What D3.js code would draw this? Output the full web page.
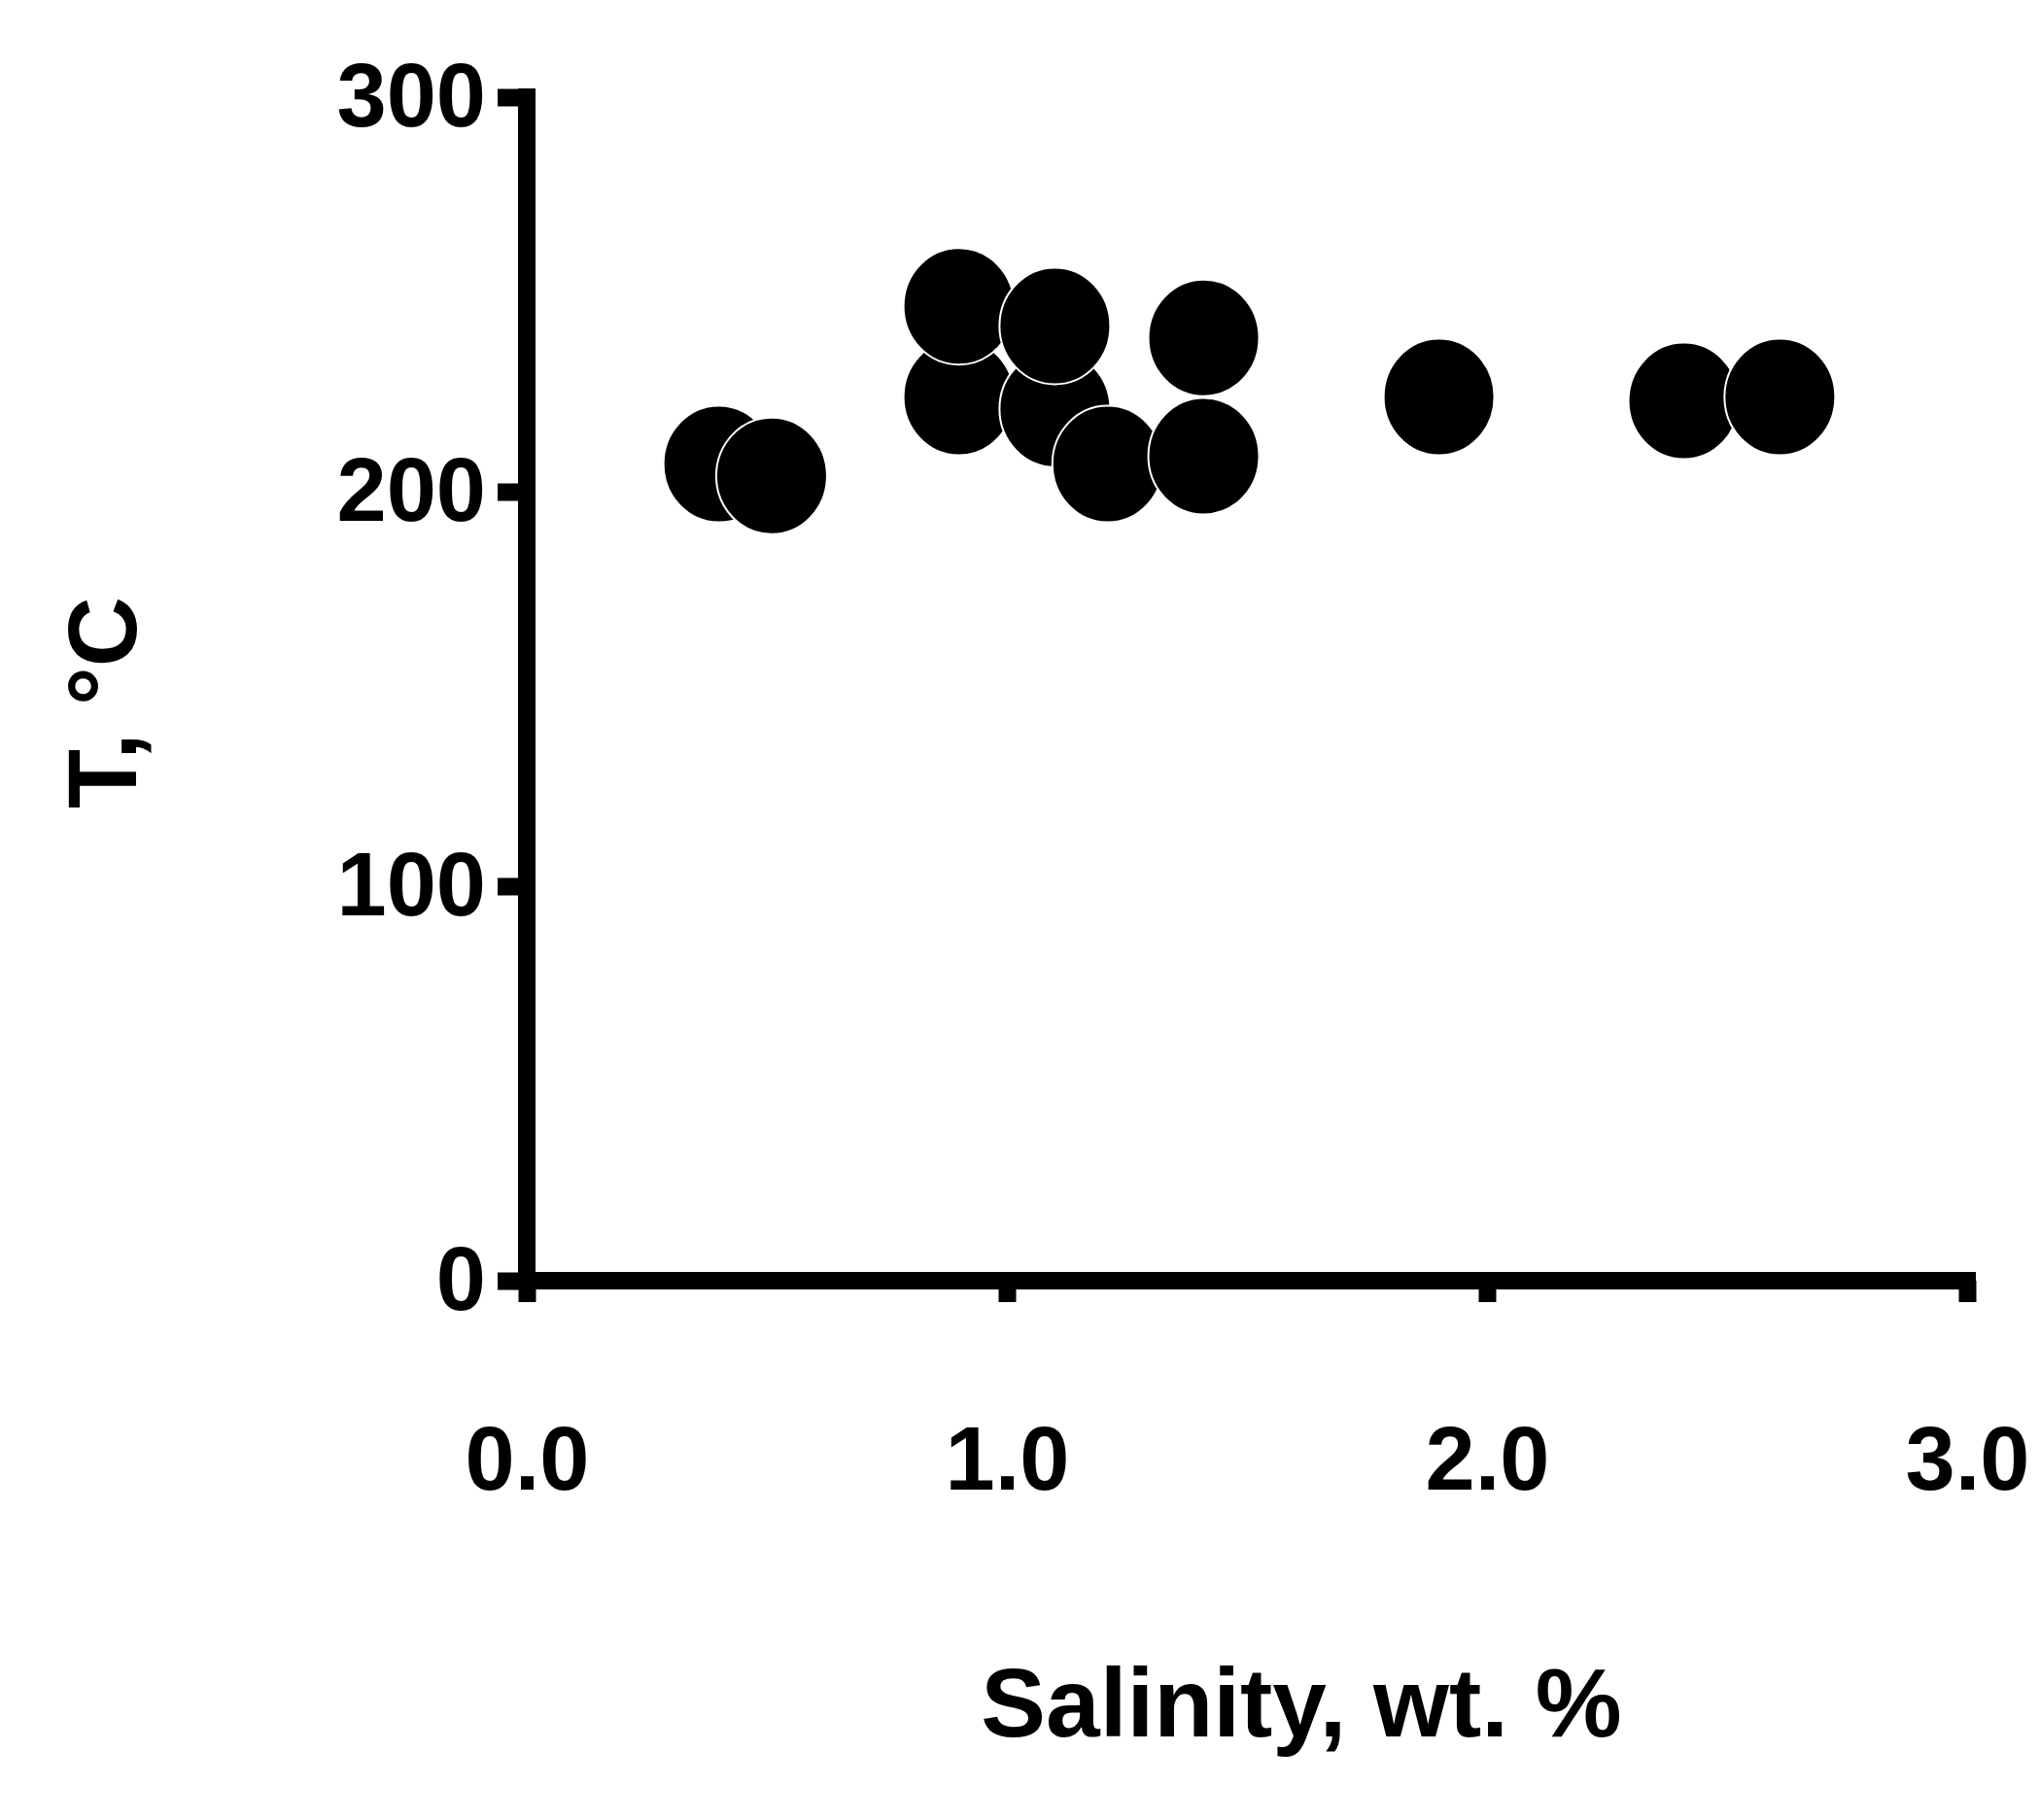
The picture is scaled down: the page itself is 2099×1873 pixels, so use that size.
<!DOCTYPE html>
<html><head><meta charset="utf-8">
<script src="https://cdn.jsdelivr.net/npm/d3@7"></script>
<style>body{margin:0;background:#fff}</style></head>
<body><svg id="c" width="2099" height="1873"></svg>
<script>
const salinity = [0.40, 0.51, 0.90, 0.90, 1.10, 1.10, 1.21, 1.41, 1.41, 1.90, 2.41, 2.61];
const temperature = [207, 204, 224, 247, 221, 242, 207, 239, 209, 224, 223, 224];
const xTicks = [0, 1, 2, 3];
const yTicks = [0, 100, 200, 300];

const svg = d3.select("#c");
const x = d3.scaleLinear().domain([0, 3]).range([542, 2024]);
const y = d3.scaleLinear().domain([0, 300]).range([1318, 100]);
const font = "'Liberation Sans', Arial, sans-serif";

// points
svg.append("g").selectAll("ellipse").data(salinity.map((s,i)=>[s,temperature[i]]))
  .join("ellipse").attr("cx", d=>x(d[0])).attr("cy", d=>y(d[1]))
  .attr("rx", 57).attr("ry", 60).attr("fill", "#000").attr("stroke", "#fff").attr("stroke-width", 2);

// axes
const yAxis = d3.axisLeft(y).tickValues(yTicks).tickSize(30).tickPadding(12);
const gy = svg.append("g").attr("transform", `translate(${x(0)},0)`).call(yAxis);
const xAxis = d3.axisBottom(x).tickValues(xTicks).tickSize(30).tickPadding(120);
const gx = svg.append("g").attr("transform", `translate(0,${y(0)})`).call(xAxis);
[gy, gx].forEach(g => {
  g.select(".domain").attr("stroke", "#000").attr("stroke-width", 18).attr("stroke-linecap", "square");
  g.selectAll(".tick line").attr("stroke", "#000").attr("stroke-width", 18);
  g.selectAll("text").attr("font-family", font).attr("font-weight", "bold")
    .attr("font-size", 92).attr("fill", "#000");
});
gy.select(".domain").attr("d", `M0,${y(300)}V${y(0)}`);
gx.select(".domain").attr("d", `M${x(0)},0H${x(3)}`);
gx.selectAll(".tick line").attr("y1", 0).attr("y2", 22);

svg.append("text").attr("x", 1339).attr("y", 1787).attr("text-anchor", "middle")
  .attr("font-family", font).attr("font-weight", "bold").attr("font-size", 100).text("Salinity, wt. %");
svg.append("text").attr("transform", "translate(140,723) rotate(-90)").attr("text-anchor", "middle")
  .attr("font-family", font).attr("font-weight", "bold").attr("font-size", 100).text("T, °C");
</script></body></html>
